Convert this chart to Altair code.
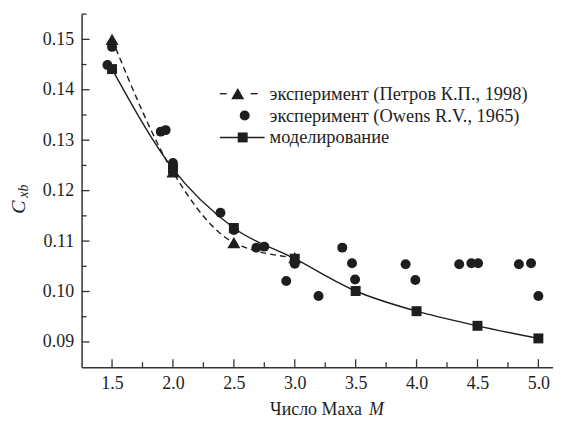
import altair as alt
import pandas as pd

# ---- data ----
model_M = [1.5, 2.0, 2.5, 3.0, 3.5, 4.0, 4.5, 5.0]
model_C = [0.1441, 0.1243, 0.1126, 0.1065, 0.1001, 0.0961, 0.0932, 0.0907]

petrov_M = [1.5, 2.0, 2.5, 3.0]
petrov_C = [0.1500, 0.1237, 0.1097, 0.1067]

owens_M = [1.462, 1.50, 1.90, 1.94, 2.0, 2.0, 2.39, 2.50, 2.685, 2.75, 2.93, 3.0,
           3.195, 3.39, 3.47, 3.495, 3.91, 3.99, 4.35, 4.45, 4.505, 4.84, 4.94, 5.0]
owens_C = [0.1449, 0.1485, 0.1317, 0.1320, 0.1255, 0.1247, 0.1156, 0.1122, 0.1087, 0.1089,
           0.1021, 0.1055, 0.0991, 0.1087, 0.1056, 0.1024, 0.1054, 0.1023, 0.1054, 0.1056,
           0.1056, 0.1054, 0.1056, 0.0991]

x_major = [1.5, 2.0, 2.5, 3.0, 3.5, 4.0, 4.5, 5.0]
x_minor = [1.75, 2.25, 2.75, 3.25, 3.75, 4.25, 4.75]
y_major = [0.09, 0.10, 0.11, 0.12, 0.13, 0.14, 0.15]
y_minor = [0.095, 0.105, 0.115, 0.125, 0.135, 0.145, 0.155]

legend_labels = ["эксперимент (Петров К.П., 1998)",
                 "эксперимент (Owens R.V., 1965)",
                 "моделирование"]
x_title = "Число Маха"
x_title_var = "M"
y_title_main = "C"
y_title_sub = "xb"

FONT = "Liberation Serif"
INK = "#1e1e1e"
W, H = 474, 355
FS = 18

xs = alt.Scale(domain=[1.25, 5.12], nice=False, zero=False)
ys = alt.Scale(domain=[0.085, 0.155], nice=False, zero=False)

xaxis = alt.Axis(orient="bottom", values=x_major, format=".1f", ticks=False, grid=False, title=None,
                 labelFont=FONT, labelFontSize=FS, labelColor=INK, labelPadding=7,
                 domainColor="#333", domainWidth=1.5)
yaxis = alt.Axis(orient="left", values=y_major, format=".2f", ticks=False, grid=False, title=None,
                 labelFont=FONT, labelFontSize=FS, labelColor=INK, labelPadding=8,
                 domainColor="#333", domainWidth=1.5)

model_df = pd.DataFrame({"M": model_M, "C": model_C})
petrov_df = pd.DataFrame({"M": petrov_M, "C": petrov_C})
owens_df = pd.DataFrame({"M": owens_M, "C": owens_C})

X = alt.X("M:Q", scale=xs, axis=xaxis)
Y = alt.Y("C:Q", scale=ys, axis=yaxis)

model_line = alt.Chart(model_df).mark_line(color=INK, strokeWidth=1.4, interpolate="monotone").encode(x=X, y=Y)
model_pts = alt.Chart(model_df).mark_point(shape="square", filled=True, color=INK, size=100, opacity=1).encode(x=X, y=Y)
petrov_line = alt.Chart(petrov_df).mark_line(color=INK, strokeWidth=1.4, strokeDash=[6, 4], interpolate="monotone").encode(x=X, y=Y)
petrov_pts = alt.Chart(petrov_df).mark_point(shape="triangle-up", filled=True, color=INK, size=170, opacity=1).encode(x=X, y=Y)
owens_pts = alt.Chart(owens_df).mark_point(shape="circle", filled=True, color=INK, size=100, opacity=1).encode(x=X, y=Y)

# inward ticks
def xticks(vals, length):
    return alt.Chart(pd.DataFrame({"M": vals})).mark_rule(color="#333", strokeWidth=1.3).encode(
        x=X, y=alt.value(H), y2=alt.value(H - length))

def yticks(vals, length):
    return alt.Chart(pd.DataFrame({"C": vals})).mark_rule(color="#333", strokeWidth=1.3).encode(
        y=Y, x=alt.value(0), x2=alt.value(length))

ticks = [xticks(x_major, 8), xticks(x_minor, 5), yticks(y_major, 8), yticks(y_minor, 5)]

# legend and titles
def txt(s, x, y, size=FS, style="normal", align="left", angle=0, baseline="middle"):
    return alt.Chart(pd.DataFrame({"t": [s]})).mark_text(
        font=FONT, fontSize=size, fontStyle=style, align=align, baseline=baseline,
        color=INK, angle=angle).encode(text="t:N", x=alt.value(x), y=alt.value(y))

def seg(x1, x2, y):
    return alt.Chart(pd.DataFrame({"a": [0]})).mark_rule(color=INK, strokeWidth=1.4).encode(
        x=alt.value(x1), x2=alt.value(x2), y=alt.value(y))

def sym(shape, x, y, size):
    return alt.Chart(pd.DataFrame({"a": [0]})).mark_point(
        shape=shape, filled=True, color=INK, size=size, opacity=1).encode(x=alt.value(x), y=alt.value(y))

ly = [80, 102, 124]
legend = [
    seg(139, 146, ly[0]), sym("triangle-up", 157, ly[0], 170), seg(170, 177, ly[0]),
    sym("circle", 164, ly[1], 100),
    seg(139, 184, ly[2]), sym("square", 162, ly[2], 100),
    txt(legend_labels[0], 189, ly[0], size=18.5),
    txt(legend_labels[1], 189, ly[1], size=18.5),
    txt(legend_labels[2], 189, ly[2], size=18.5),
]

titles = [
    txt(x_title, 282, 398, align="right"),
    txt(x_title_var, 289, 398, style="italic"),
    txt(y_title_main, -63, 194, size=20, style="italic", align="center", angle=270),
    txt(y_title_sub, -58, 178, size=14, style="italic", align="center", angle=270),
]

chart = alt.layer(
    model_line, *ticks, petrov_line, model_pts, petrov_pts, owens_pts, *legend, *titles
).properties(
    width=W, height=H, background="white",
    autosize=alt.AutoSizeParams(type="none"),
    padding={"left": 74, "top": 5, "right": 0, "bottom": 55},
).configure_view(stroke=None)

chart.save("out.html", embed_options={"renderer": "svg", "actions": False})
